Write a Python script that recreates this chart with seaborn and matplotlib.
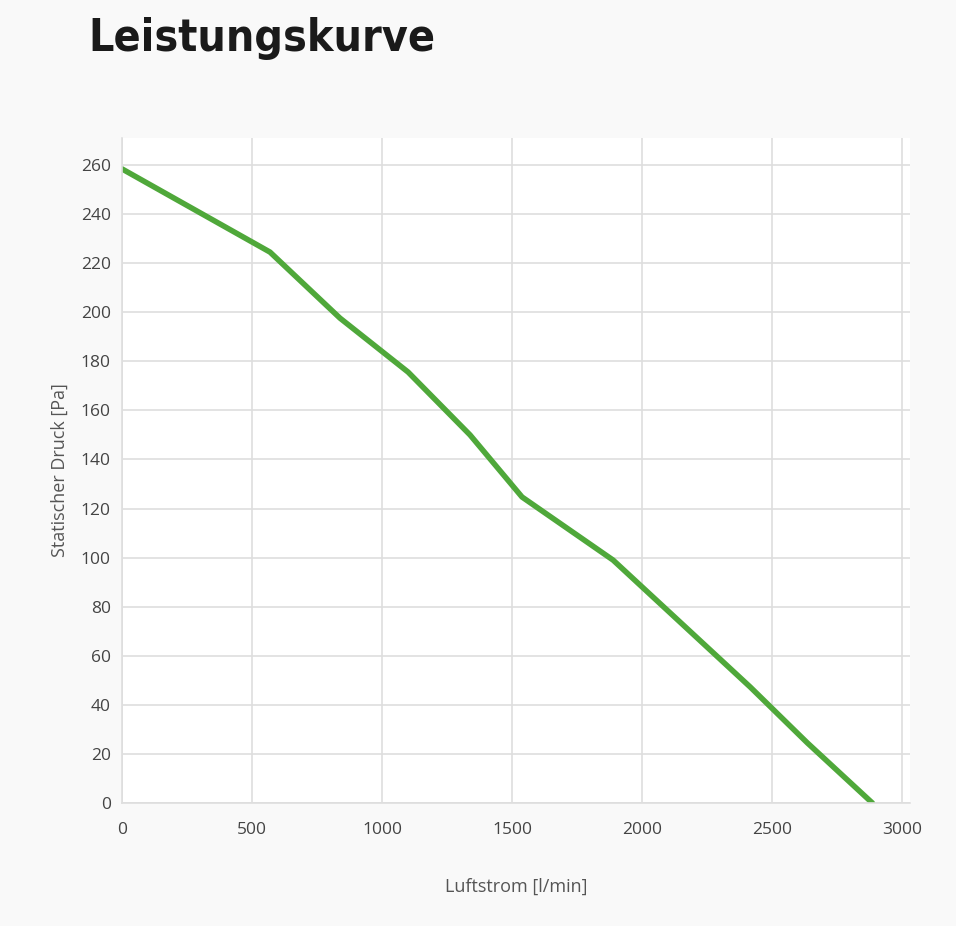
import pandas as pd
import seaborn as sns
import matplotlib.pyplot as plt

airflow = [0, 569, 838, 1100, 1338, 1538, 1888, 2415, 2635, 2885]
pressure = [258.4, 224.5, 197.6, 175.6, 150.0, 124.7, 99.0, 47.3, 24.5, 0.0]
x_ticks = [0, 500, 1000, 1500, 2000, 2500, 3000]
y_ticks = list(range(0, 261, 20))

curve = pd.DataFrame({'Luftstrom': airflow, 'Druck': pressure})

sns.set_style('whitegrid')
plt.rcParams['font.family'] = ['Open Sans', 'DejaVu Sans']

fig = plt.figure(figsize=(9.56, 9.26), dpi=100, facecolor='#f9f9f9')
ax_ = fig.add_axes([0.1276, 0.1328, 0.952 - 0.1276, 0.851 - 0.1328])
ax_.set_facecolor('white')

sns.lineplot(data=curve, x='Luftstrom', y='Druck', ax=ax_, color='#4fa83a',
             linewidth=4, solid_capstyle='round', sort=False)

ax_.set_xlim(0, 3030)
ax_.set_ylim(0, 271)
ax_.set_xticks(x_ticks)
ax_.set_yticks(y_ticks)
ax_.grid(True, color='#dedede', linewidth=1.2)
ax_.tick_params(axis='both', length=0, labelsize=12.5, labelcolor='#444444')
ax_.tick_params(axis='x', pad=14)
ax_.tick_params(axis='y', pad=8)

for side in ['top', 'right']:
    ax_.spines[side].set_visible(False)
for side in ['left', 'bottom']:
    ax_.spines[side].set_color('#dedede')
    ax_.spines[side].set_linewidth(1.2)

ax_.set_xlabel('Luftstrom [l/min]', fontsize=13, color='#555555', labelpad=28)
ax_.set_ylabel('Statischer Druck [Pa]', fontsize=13, color='#555555', labelpad=9)

fig.text(88 / 956, 1 - 38 / 926, 'Leistungskurve', fontsize=32, fontweight='bold',
         fontstretch='condensed', color='#1a1a1a', va='center', ha='left',
         family=['DejaVu Sans'])

plt.savefig('out.png', dpi=100, facecolor=fig.get_facecolor())
